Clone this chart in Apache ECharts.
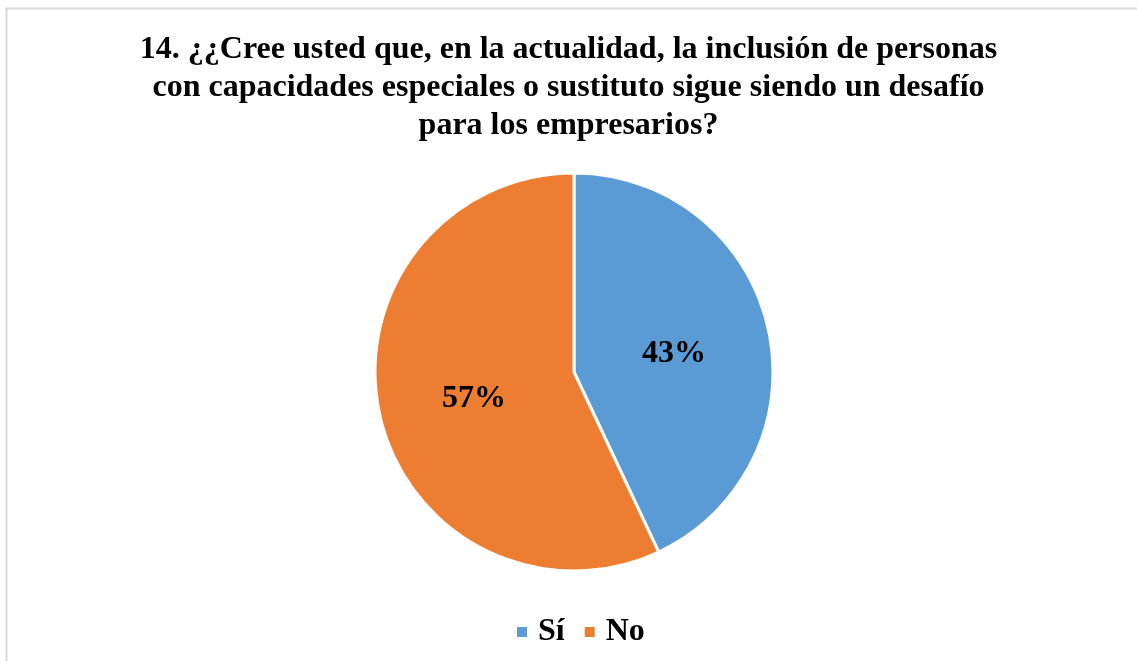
<!DOCTYPE html>
<html>
<head>
<meta charset="utf-8">
<script src="https://cdn.jsdelivr.net/npm/echarts@6/dist/echarts.min.js"></script>
<style>
  html, body { margin: 0; padding: 0; background: #fff; }
  #chart { width: 1137px; height: 661px; }
</style>
</head>
<body>
<div id="chart"></div>
<script>
// Survey answers and their shares (percent)
const categories = ['Sí', 'No'];
const shares = [43, 57];
const colors = ['#5b9bd5', '#ed7d31'];
const titleLines = [
  '14. ¿¿Cree usted que, en la actualidad, la inclusión de personas',
  'con capacidades especiales o sustituto sigue siendo un desafío',
  'para los empresarios?'
];

const serif = '"Liberation Serif", "Times New Roman", serif';
const chart = echarts.init(document.getElementById('chart'));

chart.setOption({
  backgroundColor: '#ffffff',
  graphic: [{
    type: 'rect',
    shape: { x: 6.5, y: 8.5, width: 1200, height: 700 },
    style: { fill: 'none', stroke: '#d9d9d9', lineWidth: 2 },
    silent: true
  }],
  title: {
    text: titleLines.join('\n'),
    left: 'center',
    top: 26,
    textStyle: {
      fontFamily: serif,
      fontWeight: 'bold',
      fontSize: 32,
      lineHeight: 38,
      color: '#000'
    }
  },
  legend: {
    data: categories,
    bottom: 8,
    left: 510,
    icon: 'rect',
    itemWidth: 12,
    itemHeight: 12,
    itemGap: 18,
    textStyle: {
      fontFamily: serif,
      fontWeight: 'bold',
      fontSize: 32,
      color: '#000',
      padding: [0, 0, 0, 5]
    }
  },
  series: [{
    type: 'pie',
    center: [574, 372],
    radius: [0, 199],
    startAngle: 90,
    clockwise: true,
    animation: false,
    itemStyle: { borderColor: '#fff', borderWidth: 3 },
    label: {
      show: true,
      position: 'inside',
      formatter: '{d}%',
      fontFamily: serif,
      fontWeight: 'bold',
      fontSize: 32,
      color: '#000'
    },
    labelLayout: { dy: 4 },
    labelLine: { show: false },
    data: categories.map((name, i) => ({
      name,
      value: shares[i],
      itemStyle: { color: colors[i] }
    }))
  }]
});
</script>
</body>
</html>
